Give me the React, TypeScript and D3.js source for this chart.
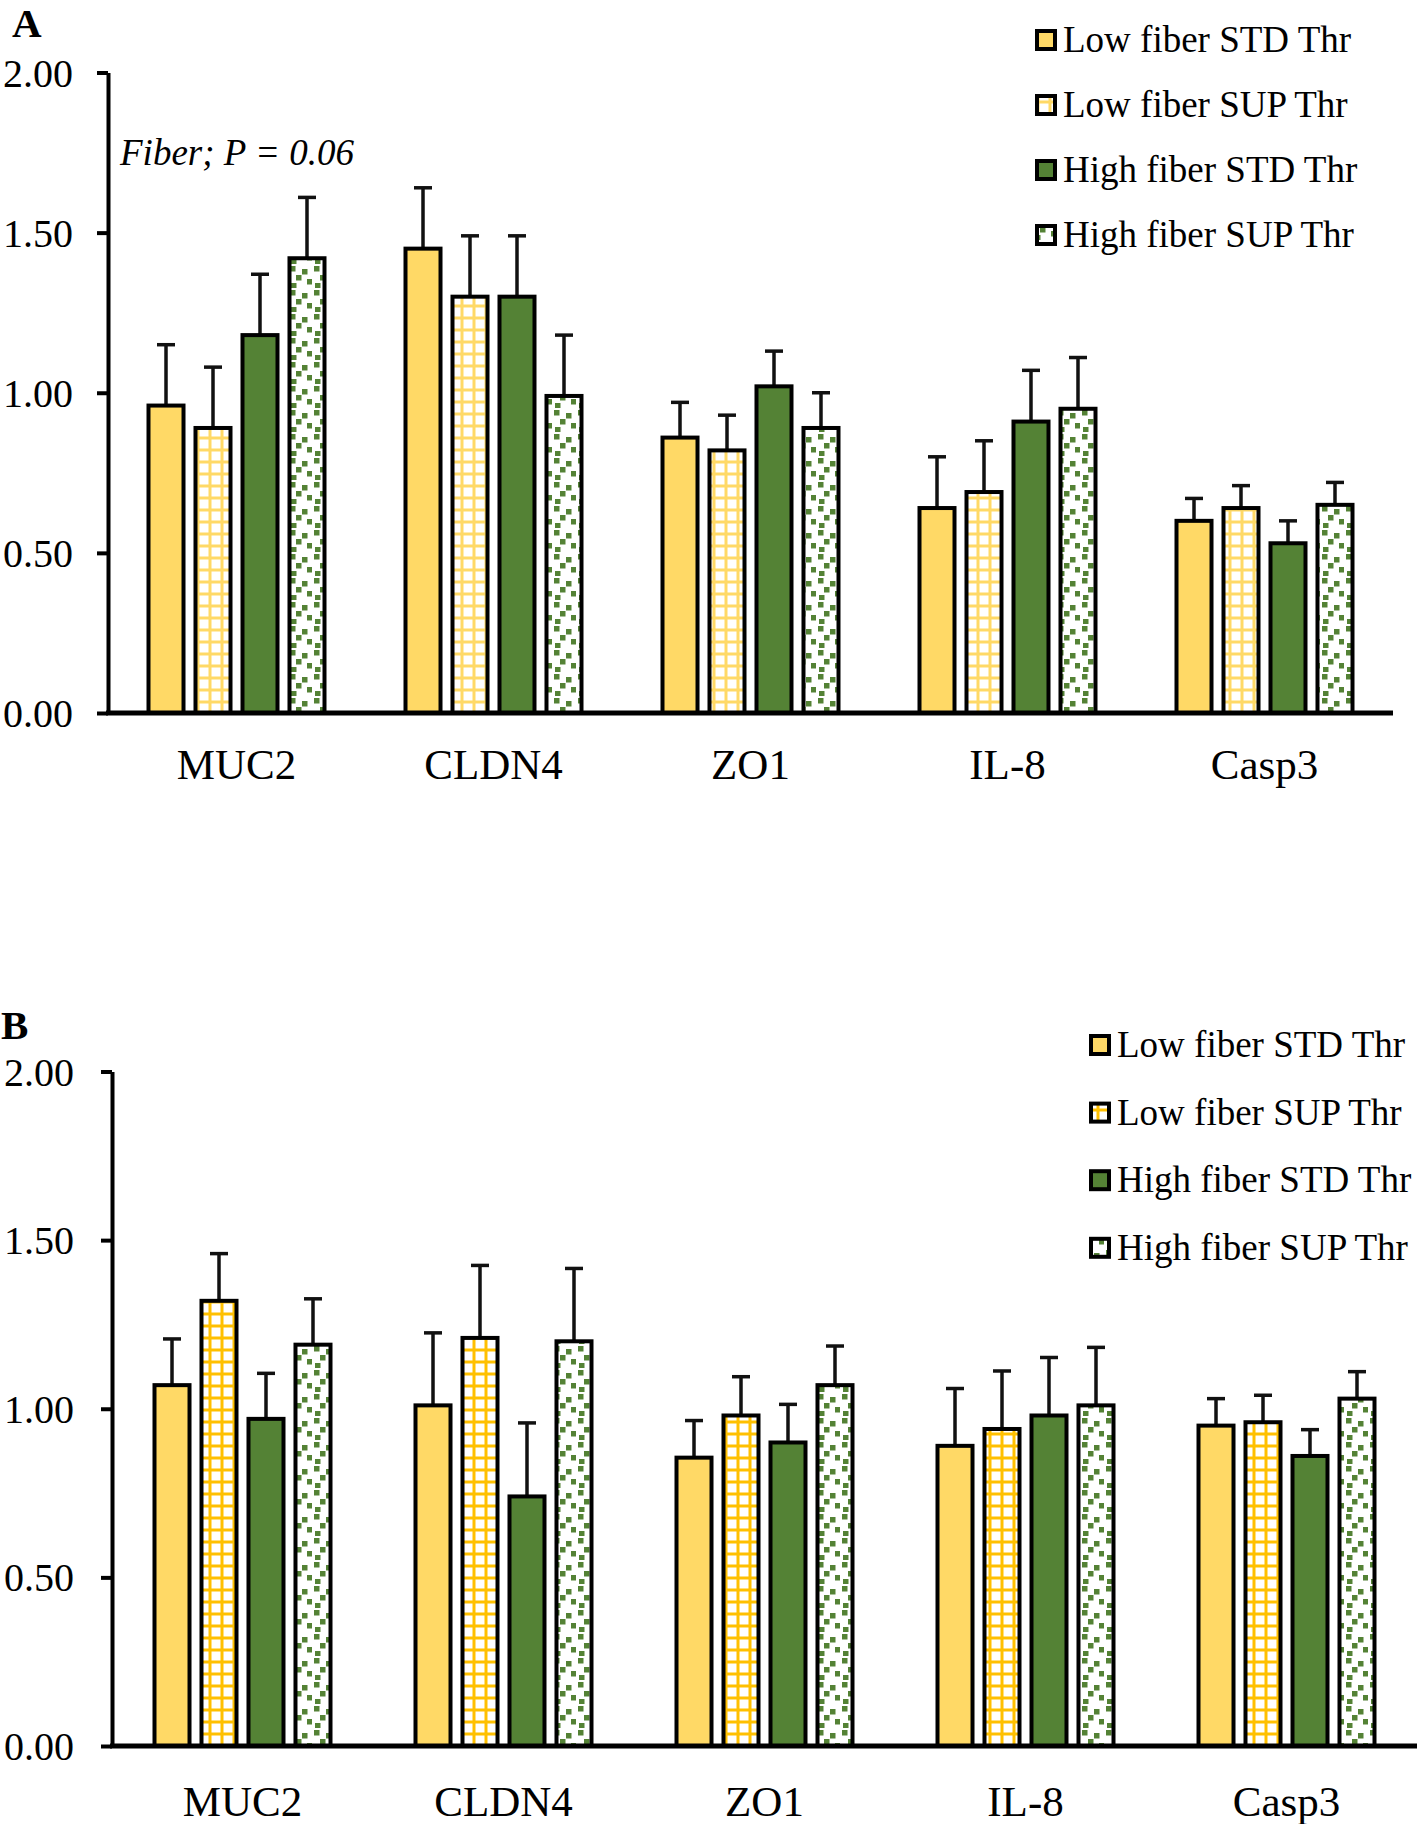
import React, { useRef, useEffect } from 'react';
import * as d3 from 'd3';

// categories and series
const categories = ['MUC2', 'CLDN4', 'ZO1', 'IL-8', 'Casp3'];
const seriesNames = ['Low fiber STD Thr', 'Low fiber SUP Thr', 'High fiber STD Thr', 'High fiber SUP Thr'];
const yTicks = [0, 0.5, 1.0, 1.5, 2.0];

// Panel A means / SEM
const aLowStd = [0.96, 1.45, 0.86, 0.64, 0.60];
const aLowSup = [0.89, 1.30, 0.82, 0.69, 0.64];
const aHighStd = [1.18, 1.30, 1.02, 0.91, 0.53];
const aHighSup = [1.42, 0.99, 0.89, 0.95, 0.65];
const aSemLowStd = [0.19, 0.19, 0.11, 0.16, 0.07];
const aSemLowSup = [0.19, 0.19, 0.11, 0.16, 0.07];
const aSemHighStd = [0.19, 0.19, 0.11, 0.16, 0.07];
const aSemHighSup = [0.19, 0.19, 0.11, 0.16, 0.07];

// Panel B means / SEM
const bLowStd = [1.07, 1.01, 0.855, 0.89, 0.95];
const bLowSup = [1.32, 1.21, 0.98, 0.94, 0.96];
const bHighStd = [0.97, 0.74, 0.90, 0.98, 0.86];
const bHighSup = [1.19, 1.20, 1.07, 1.01, 1.03];
const bSemLowStd = [0.137, 0.215, 0.11, 0.17, 0.08];
const bSemLowSup = [0.14, 0.215, 0.115, 0.172, 0.08];
const bSemHighStd = [0.135, 0.218, 0.113, 0.172, 0.078];
const bSemHighSup = [0.136, 0.216, 0.116, 0.172, 0.08];

const SERIF = '"Times New Roman", "Liberation Serif", serif';
const YELLOW = '#FFD966';
const GREEN = '#548235';

function addPatterns(defs, id, gridColor) {
    // grid (Low fiber SUP)
    const grid = defs.append('pattern')
        .attr('id', `grid-${id}`)
        .attr('patternUnits', 'userSpaceOnUse')
        .attr('width', 12).attr('height', 12);
    grid.append('rect').attr('width', 12).attr('height', 12).attr('fill', '#fff');
    grid.append('rect').attr('x', 4.5).attr('y', 0).attr('width', 3).attr('height', 12).attr('fill', gridColor);
    grid.append('rect').attr('x', 0).attr('y', 4.5).attr('width', 12).attr('height', 3).attr('fill', gridColor);

    // confetti (High fiber SUP)
    const conf = defs.append('pattern')
        .attr('id', `conf-${id}`)
        .attr('patternUnits', 'userSpaceOnUse')
        .attr('width', 24).attr('height', 24);
    conf.append('rect').attr('width', 24).attr('height', 24).attr('fill', '#fff');
    [[2, 2], [14, 5], [8, 11], [19, 15], [3, 19]].forEach(([px, py]) => {
        conf.append('rect').attr('x', px).attr('y', py).attr('width', 5.5).attr('height', 5.5).attr('fill', GREEN);
    });
}

function drawPanel(svg, o) {
    const defs = svg.append('defs');
    addPatterns(defs, o.id, o.gridColor);
    const fills = [YELLOW, `url(#grid-${o.id})`, GREEN, `url(#conf-${o.id})`];

    const g = svg.append('g');

    const y = d3.scaleLinear().domain([0, 2]).range([o.y0, o.y2]);
    const x0 = d3.scaleBand().domain(categories).range([o.axisX, o.axisEnd]);
    const x1 = d3.scaleBand().domain(d3.range(4)).range([-90, 90]).paddingInner(0.17);

    // panel letter
    g.append('text')
        .attr('x', o.labelX).attr('y', o.labelY)
        .attr('font-family', SERIF).attr('font-weight', 'bold').attr('font-size', 41)
        .text(o.label);

    // bars
    const flat = [];
    categories.forEach((c, ci) => {
        o.means.forEach((s, si) => {
            flat.push({ c, si, v: s[ci], e: o.sems[si][ci] });
        });
    });

    // error bars (drawn first, bar top stroke covers base)
    const eb = g.append('g').attr('stroke', '#111').attr('stroke-width', 3.5);
    flat.forEach(d => {
        const cx = x0(d.c) + x0.bandwidth() / 2 + x1(d.si) + x1.bandwidth() / 2;
        eb.append('line').attr('x1', cx).attr('x2', cx).attr('y1', y(d.v)).attr('y2', y(d.v + d.e));
        eb.append('line').attr('x1', cx - 9).attr('x2', cx + 9).attr('y1', y(d.v + d.e)).attr('y2', y(d.v + d.e));
    });

    g.append('g').selectAll('rect')
        .data(flat)
        .enter()
        .append('rect')
        .attr('x', d => x0(d.c) + x0.bandwidth() / 2 + x1(d.si) + 2)
        .attr('y', d => y(d.v))
        .attr('width', x1.bandwidth() - 4)
        .attr('height', d => y(0) - y(d.v))
        .attr('fill', d => fills[d.si])
        .attr('stroke', '#000')
        .attr('stroke-width', 4);

    // y axis
    const yAxis = g.append('g')
        .attr('transform', `translate(${o.axisX},0)`)
        .call(d3.axisLeft(y).tickValues(yTicks).tickSize(11).tickSizeOuter(0)
            .tickPadding(o.axisX - o.tickLabelRight - 11).tickFormat(d3.format('.2f')));
    yAxis.select('.domain').attr('stroke', '#000').attr('stroke-width', 4);
    yAxis.selectAll('.tick line').attr('stroke', '#000').attr('stroke-width', 4);
    yAxis.selectAll('.tick text')
        .attr('font-family', SERIF).attr('font-size', 40).attr('fill', '#000')
        .attr('dy', '0.34em');

    // x axis baseline
    g.append('line')
        .attr('x1', o.axisX - 2).attr('x2', o.axisEnd)
        .attr('y1', y(0)).attr('y2', y(0))
        .attr('stroke', '#000').attr('stroke-width', 5);

    // category labels
    g.append('g').selectAll('text')
        .data(categories)
        .enter()
        .append('text')
        .attr('x', d => x0(d) + x0.bandwidth() / 2)
        .attr('y', o.catY)
        .attr('text-anchor', 'middle')
        .attr('font-family', SERIF).attr('font-size', 43)
        .text(d => d);

    // legend
    const lg = g.append('g');
    seriesNames.forEach((name, i) => {
        const cy = o.legendY + i * o.legendStep;
        lg.append('rect')
            .attr('x', o.legendX + 2).attr('y', cy - 9)
            .attr('width', 18).attr('height', 18)
            .attr('fill', fills[i]).attr('stroke', '#000').attr('stroke-width', 4);
        lg.append('text')
            .attr('x', o.legendX + 28).attr('y', cy + 12)
            .attr('font-family', SERIF).attr('font-size', 37)
            .text(name);
    });

    if (o.note) {
        g.append('text')
            .attr('x', o.note.x).attr('y', o.note.y)
            .attr('font-family', SERIF).attr('font-style', 'italic').attr('font-size', 37)
            .text(o.note.text);
    }
}

const App = () => {
    const ref = useRef();

    useEffect(() => {
        const svg = d3.select(ref.current);
        svg.selectAll('*').remove();

        drawPanel(svg, {
            id: 'a', label: 'A', labelX: 12, labelY: 37,
            means: [aLowStd, aLowSup, aHighStd, aHighSup],
            sems: [aSemLowStd, aSemLowSup, aSemHighStd, aSemHighSup],
            gridColor: YELLOW,
            axisX: 108, axisEnd: 1393, y0: 713, y2: 72.5, tickLabelRight: 73,
            catY: 779,
            legendX: 1035, legendY: 40, legendStep: 65,
            note: { x: 120, y: 165, text: 'Fiber; P = 0.06' },
        });

        drawPanel(svg, {
            id: 'b', label: 'B', labelX: 1, labelY: 1039,
            means: [bLowStd, bLowSup, bHighStd, bHighSup],
            sems: [bSemLowStd, bSemLowSup, bSemHighStd, bSemHighSup],
            gridColor: '#FFC000',
            axisX: 112, axisEnd: 1417, y0: 1746, y2: 1071.5, tickLabelRight: 74,
            catY: 1816,
            legendX: 1089, legendY: 1045, legendStep: 67.6,
        });
    }, []);

    return (
        <div style={{ position: 'absolute', left: 0, top: 0 }}>
            <svg ref={ref} width={1418} height={1824} style={{ display: 'block', background: '#fff' }}></svg>
        </div>
    );
};

export default App;
